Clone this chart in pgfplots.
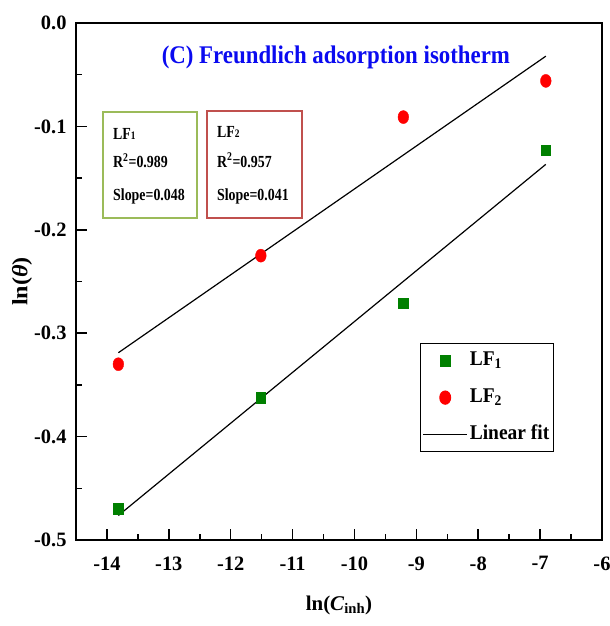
\documentclass[border=0pt]{standalone}
\usepackage{fontspec}
\setmainfont{Liberation Serif}
\newfontfamily\ttlfont[FakeStretch=0.9]{Liberation Serif}
\newfontfamily\insetfont[FakeStretch=0.82]{Liberation Serif}
\newfontfamily\legfont[FakeStretch=0.93]{Liberation Serif}
\newfontfamily\ylabfont[FakeStretch=1.1]{Liberation Serif}
\usepackage{pgfplots}
\pgfplotsset{compat=1.18}
\pgfplotsset{
  markleg/.style={legend image code/.code={\draw[##1] plot coordinates {(22bp,0bp)};}},
  lineleg/.style={legend image code/.code={\draw[##1] (0bp,0bp) -- (44bp,0bp);}},
}
\definecolor{ptgreen}{RGB}{0,128,0}
\definecolor{boxgreen}{RGB}{155,187,89}
\definecolor{boxred}{RGB}{192,80,77}
\definecolor{ttlblue}{RGB}{10,10,240}
\begin{document}
\begin{tikzpicture}
\begin{axis}[
  width=526bp, height=517bp, scale only axis,
  xmin=-14.5, xmax=-6, ymin=-0.5, ymax=0,
  xtick={-14,-13,...,-6},
  ytick={-0.5,-0.4,-0.3,-0.2,-0.1,0},
  minor x tick num=1, minor y tick num=1,
  tick pos=left, tick align=inside,
  major tick length=11bp, minor tick length=6bp,
  axis line style={line width=1.8bp},
  every tick/.style={line width=1.5bp, black},
  /pgf/number format/assume math mode=true,
  tick label style={font=\bfseries\fontsize{20.5}{20.5}\selectfont},
  yticklabel style={xshift=-6bp, /pgf/number format/.cd, fixed, fixed zerofill, precision=1},
  xticklabel style={yshift=-13bp},
  xlabel={ln(\textit{C}\textsubscript{inh})},
  ylabel={\ylabfont\bfseries ln(\textit{θ})},
  xlabel style={at={(axis description cs:0.5,0)}, anchor=center, yshift=-65bp, font=\bfseries\fontsize{21}{21}\selectfont},
  ylabel style={at={(axis description cs:-0.1027,0.5)}, anchor=center, font=\bfseries\fontsize{22}{22}\selectfont},
  legend style={at={(axis description cs:0.654,0.381)}, anchor=north west, draw=black, line width=1.2bp,
    font=\legfont\bfseries\fontsize{21}{21}\selectfont, row sep=10bp, inner xsep=2bp, inner ysep=3.5bp,
    nodes={inner sep=2bp, text height=16bp, text depth=7bp}},
  legend cell align=left,
]
\addplot[only marks, mark=square*, mark size=4.7bp, mark options={yscale=1.15}, color=ptgreen, markleg] coordinates {
  (-13.8155,-0.470) (-11.5129,-0.362) (-9.2103,-0.271) (-6.9078,-0.123)};
\addlegendentry{LF\textsubscript{1}}
\addplot[only marks, mark=*, mark size=5.35bp, mark options={yscale=1.22}, color=red, markleg] coordinates {
  (-13.8155,-0.330) (-11.5129,-0.225) (-9.2103,-0.091) (-6.9078,-0.056)};
\addlegendentry{LF\textsubscript{2}}
\addplot[black, line width=1.2bp, lineleg] coordinates {(-13.8155,-0.4763) (-6.9078,-0.1367)};
\addlegendentry{Linear fit}
\addplot[black, line width=1.2bp, forget plot] coordinates {(-13.8155,-0.3189) (-6.9078,-0.0321)};
\node[font=\ttlfont\bfseries\fontsize{25.5}{25.5}\selectfont, text=ttlblue, anchor=base, inner sep=0pt] at (axis cs:-10.30,-0.0387) {(C) Freundlich adsorption isotherm};
\draw[boxgreen, line width=1.8bp] (axis cs:-14.064,-0.0861) rectangle (axis cs:-12.545,-0.1886);
\draw[boxred, line width=1.8bp] (axis cs:-12.384,-0.0851) rectangle (axis cs:-10.849,-0.1886);
\begin{scope}[every node/.style={font=\insetfont\bfseries\fontsize{17}{17}\selectfont, anchor=base west, inner sep=0pt}]
\node at (axis cs:-13.902,-0.1122) {LF{\fontsize{11.5}{11.5}\selectfont 1}};
\node at (axis cs:-13.902,-0.1402) {R\textsuperscript{2}=0.989};
\node at (axis cs:-13.902,-0.1721) {Slope=0.048};
\node at (axis cs:-12.222,-0.1103) {LF{\fontsize{11.5}{11.5}\selectfont 2}};
\node at (axis cs:-12.222,-0.1393) {R\textsuperscript{2}=0.957};
\node at (axis cs:-12.222,-0.1712) {Slope=0.041};
\end{scope}
\end{axis}
\pgfresetboundingbox
\path ([xshift=-76bp,yshift=-86bp]current axis.south west) rectangle ([xshift=8bp,yshift=23bp]current axis.north east);
\end{tikzpicture}
\end{document}
